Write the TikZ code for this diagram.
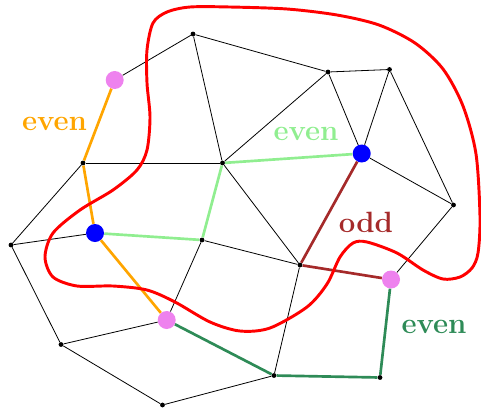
\documentclass[tikz,border=0pt]{standalone}
\usepackage{fontspec}
\definecolor{evorange}{RGB}{255,165,0}
\definecolor{evlight}{RGB}{144,238,144}
\definecolor{evbrown}{RGB}{165,42,42}
\definecolor{evsea}{RGB}{46,139,87}
\definecolor{evviolet}{RGB}{238,130,238}
\tikzset{
  dot/.style={circle,fill=black,inner sep=0pt,minimum size=3.6pt},
  bigv/.style={circle,fill=evviolet,inner sep=0pt,minimum size=13.5pt},
  bigb/.style={circle,fill=blue,inner sep=0pt,minimum size=13.5pt},
  edge/.style={draw=black,line width=0.6pt},
  cedge/.style={line width=2pt},
  lbl/.style={inner sep=0pt,font=\fontsize{22}{26}\selectfont\bfseries},
  region/.style={draw=red,line width=2.2pt}
}
\begin{document}
\begin{tikzpicture}[x=0.75pt,y=-0.75pt]
\useasboundingbox (0,0) rectangle (481,408);
% nodes
\node[dot] (A) at (193,34) {};
\node[dot] (B) at (328,72) {};
\node[dot] (C) at (389.5,69.5) {};
\node[dot] (D) at (453.5,205) {};
\node[dot] (E) at (222.5,163) {};
\node[dot] (F) at (83,163) {};
\node[dot] (G) at (11,245) {};
\node[dot] (H) at (202,240) {};
\node[dot] (I) at (300,265) {};
\node[dot] (J) at (61,344.5) {};
\node[dot] (K) at (274,375.5) {};
\node[dot] (L) at (380,377.5) {};
\node[dot] (M) at (162.5,405) {};
\node[bigv] (V1) at (114.7,80) {};
\node[bigv] (V2) at (166.7,320) {};
\node[bigv] (V3) at (391,279.5) {};
\node[bigb] (B1) at (95,233) {};
\node[bigb] (B2) at (361.7,153.5) {};
% black edges
\draw[edge] (A) -- (V1);
\draw[edge] (A) -- (E);
\draw[edge] (A) -- (B);
\draw[edge] (B) -- (C);
\draw[edge] (B) -- (E);
\draw[edge] (B) -- (B2);
\draw[edge] (C) -- (B2);
\draw[edge] (C) -- (D);
\draw[edge] (B2) -- (D);
\draw[edge] (D) -- (V3);
\draw[edge] (F) -- (E);
\draw[edge] (F) -- (G);
\draw[edge] (E) -- (I);
\draw[edge] (G) -- (B1);
\draw[edge] (G) -- (J);
\draw[edge] (J) -- (V2);
\draw[edge] (J) -- (M);
\draw[edge] (M) -- (K);
\draw[edge] (V2) -- (H);
\draw[edge] (H) -- (I);
\draw[edge] (I) -- (K);
% coloured edges
\draw[cedge,evorange] (V1) -- (F) -- (B1) -- (V2);
\draw[cedge,evlight] (B1) -- (H) -- (E) -- (B2);
\draw[cedge,evbrown] (B2) -- (I) -- (V3);
\draw[cedge,evsea] (V2) -- (K) -- (L) -- (V3);
% labels
\node[lbl,text=evorange] (t1) at (54.5,124) {even};
\node[lbl,text=evlight] (t2) at (306,134) {even};
\node[lbl,text=evbrown] (t3) at (366,222) {odd};
\node[lbl,text=evsea] (t4) at (434,327) {even};
% red region
\draw[region] plot[smooth cycle,tension=0.5] coordinates {
 (190,7) (230,7) (287,9) (337,15) (379,25) (415,43) (443,69) (463,106)
 (476,154) (480,217) (478,253) (472,268) (460,277) (443,279) (423,270)
 (397,253) (367,242) (353,243) (340,257) (327,284) (307,307) (270,328)
 (240,331) (210,322) (175,302) (147,290) (113,286) (77,286) (53,277)
 (45,257) (53,233) (80,210) (113,190) (137,170) (147,150) (150,117)
 (147,83) (147,50) (153,23) (167,12)};
\end{tikzpicture}
\end{document}
